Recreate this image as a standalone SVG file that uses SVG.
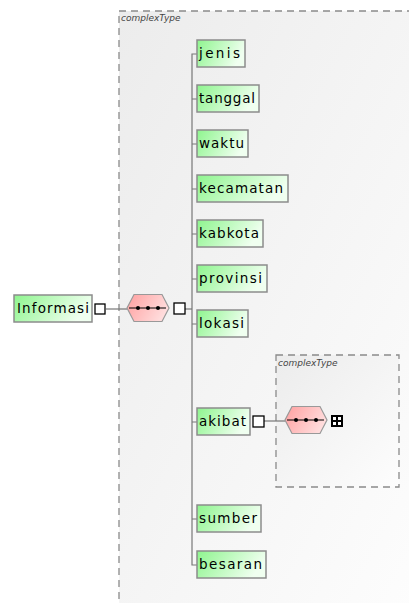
<svg xmlns="http://www.w3.org/2000/svg" width="409" height="603" viewBox="0 0 409 603">
<defs>
<linearGradient id="gEl" x1="0" y1="0" x2="1" y2="0.3">
<stop offset="0" stop-color="#8ef58e"/>
<stop offset="1" stop-color="#f0fff0"/>
</linearGradient>
<linearGradient id="gHex" x1="0" y1="0" x2="1" y2="0.4">
<stop offset="0" stop-color="#ff9f9f"/>
<stop offset="1" stop-color="#ffdcdc"/>
</linearGradient>
<linearGradient id="gBg" x1="0" y1="0" x2="1" y2="1">
<stop offset="0" stop-color="#ececec"/>
<stop offset="1" stop-color="#fdfdfd"/>
</linearGradient>
<g id="seq">
<polygon points="-21,0 -14,-13.5 14,-13.5 21,0 14,13.5 -14,13.5" fill="url(#gHex)" stroke="#999" stroke-width="1.2"/>
<line x1="-19" y1="0" x2="18" y2="0" stroke="#000" stroke-width="1.2"/>
<circle cx="-10" cy="0" r="2" fill="#000"/>
<circle cx="0" cy="0" r="2" fill="#000"/>
<circle cx="10" cy="0" r="2" fill="#000"/>
</g>
</defs>
<style>
.ct{fill:url(#gBg);stroke:#8a8a8a;stroke-width:1.3;stroke-dasharray:7,5}
.ctl{font-family:"DejaVu Sans",sans-serif;font-size:9px;font-style:italic;fill:#444}
.el{fill:url(#gEl);stroke:#8c8c8c;stroke-width:1.5}
.t{font-family:"DejaVu Sans",sans-serif;font-size:13.5px;fill:#000}
.sq{fill:#fff;stroke:#000;stroke-width:1.3}
.c{stroke:#777;stroke-width:1.2;fill:none}
</style>
<rect width="409" height="603" fill="#fff"/>
<g id="outerType">
<rect class="ct" x="119" y="11" width="300" height="600"/>
<text class="ctl" x="121" y="21">complexType</text>
</g>
<g id="innerType">
<rect class="ct" x="276" y="355" width="123" height="132"/>
<text class="ctl" x="278" y="366">complexType</text>
</g>
<g id="connectors">
<line class="c" x1="106" y1="309" x2="127" y2="309"/>
<line class="c" x1="185" y1="309" x2="192" y2="309"/>
<path class="c" d="M197,54 H192 V565 H197"/>
<path class="c" d="M192,99 H197 M192,144 H197 M192,189 H197 M192,234 H197 M192,279 H197 M192,324 H197 M192,422 H197 M192,519 H197"/>
<line class="c" x1="264" y1="421" x2="285" y2="421"/>
</g>
<g id="Informasi">
<rect class="el" x="14" y="295" width="78" height="27"/>
<text class="t" x="17" y="313" textLength="72" lengthAdjust="spacing">Informasi</text>
<rect class="sq" x="95" y="304" width="10" height="10"/>
</g>
<g id="seq1">
<use href="#seq" x="148" y="308"/>
<rect class="sq" x="174" y="303" width="11" height="11"/>
</g>
<g id="jenis">
<rect class="el" x="197" y="40" width="48" height="27"/>
<text class="t" x="199" y="58" textLength="41" lengthAdjust="spacing">jenis</text>
</g>
<g id="tanggal">
<rect class="el" x="197" y="85" width="62" height="27"/>
<text class="t" x="199" y="103" textLength="56" lengthAdjust="spacing">tanggal</text>
</g>
<g id="waktu">
<rect class="el" x="197" y="130" width="51" height="27"/>
<text class="t" x="199" y="148" textLength="45" lengthAdjust="spacing">waktu</text>
</g>
<g id="kecamatan">
<rect class="el" x="197" y="175" width="91" height="27"/>
<text class="t" x="199" y="193" textLength="84" lengthAdjust="spacing">kecamatan</text>
</g>
<g id="kabkota">
<rect class="el" x="197" y="220" width="66" height="27"/>
<text class="t" x="199" y="238" textLength="60" lengthAdjust="spacing">kabkota</text>
</g>
<g id="provinsi">
<rect class="el" x="197" y="265" width="70" height="27"/>
<text class="t" x="199" y="283" textLength="63" lengthAdjust="spacing">provinsi</text>
</g>
<g id="lokasi">
<rect class="el" x="197" y="310" width="51" height="27"/>
<text class="t" x="199" y="328" textLength="45" lengthAdjust="spacing">lokasi</text>
</g>
<g id="akibat">
<rect class="el" x="197" y="408" width="53" height="27"/>
<text class="t" x="199" y="426" textLength="47" lengthAdjust="spacing">akibat</text>
<rect class="sq" x="253" y="416" width="11" height="11"/>
</g>
<g id="seq2">
<use href="#seq" x="306" y="420"/>
<g id="grid">
<rect x="331" y="415" width="12" height="12" fill="#000"/>
<rect x="333" y="417" width="3" height="3" fill="#fff"/>
<rect x="338" y="417" width="3" height="3" fill="#fff"/>
<rect x="333" y="422" width="3" height="3" fill="#fff"/>
<rect x="338" y="422" width="3" height="3" fill="#fff"/>
</g>
</g>
<g id="sumber">
<rect class="el" x="197" y="505" width="64" height="27"/>
<text class="t" x="199" y="523" textLength="58" lengthAdjust="spacing">sumber</text>
</g>
<g id="besaran">
<rect class="el" x="197" y="551" width="69" height="27"/>
<text class="t" x="199" y="569" textLength="63" lengthAdjust="spacing">besaran</text>
</g>
</svg>
